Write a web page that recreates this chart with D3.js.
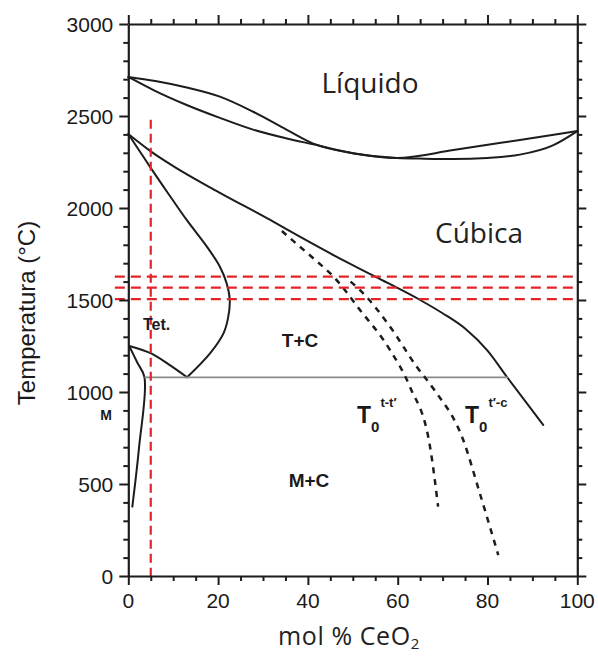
<!DOCTYPE html>
<html>
<head>
<meta charset="utf-8">
<script src="https://cdn.jsdelivr.net/npm/d3@7"></script>
<style>
  html, body { margin: 0; padding: 0; background: #fff; }
  svg { display: block; }
  .tick-label { font-family: "Liberation Sans", Arial, sans-serif; font-size: 21px; fill: #1a1a1a; }
  .phase { font-family: "Open Sans", sans-serif; fill: #222; }
  .field { font-family: "Liberation Sans", Arial, sans-serif; font-weight: bold; fill: #1a1a1a; }
</style>
</head>
<body>
<script>
// ZrO2-CeO2 phase diagram, composition in mol % CeO2, temperature in °C
const xTicks = [0, 20, 40, 60, 80, 100];
const yTicks = [0, 500, 1000, 1500, 2000, 2500, 3000];

const liquidus = [[0, 2712], [6, 2690], [13, 2655], [20.4, 2605], [27.8, 2523], [35.3, 2425],
  [41.2, 2350], [50, 2298], [59.8, 2272], [72.4, 2315], [87.2, 2370], [100, 2418]];
const solidus = [[0, 2712], [5.6, 2641], [13, 2560], [20.4, 2490], [27.8, 2426], [35.3, 2378],
  [41.2, 2346], [50, 2298], [59.8, 2272], [66, 2268], [72.4, 2266], [80, 2272], [87.2, 2290],
  [94.7, 2342], [100, 2418]];
const cubicSolvus = [[0, 2402], [5, 2308], [10, 2228], [20, 2088], [31.6, 1935], [38.2, 1844],
  [46, 1740], [55, 1627], [65, 1500], [70, 1428], [75, 1345], [80, 1225], [84.3, 1083], [92.4, 821]];
const tetSolvus = [[0, 2402], [2.5, 2310], [4.8, 2225], [9, 2075], [13, 1935], [17.5, 1790],
  [20.4, 1681], [21.9, 1591], [22.6, 1500], [22.2, 1400], [21.2, 1319], [18.2, 1210], [13.1, 1080]];
const monoTetUpper = [[0.2, 1250], [5.2, 1208], [9, 1150], [13.1, 1080]];
const monoTetLower = [[0.2, 1250], [2, 1160], [3.6, 1080], [2.4, 700], [0.9, 377]];
const eutectoid = [[3.6, 1080], [84.6, 1080]];
const t0TetTet = [[34.2, 1875], [38.2, 1790], [42, 1710], [45.7, 1627], [51.6, 1446],
  [58.3, 1228], [62.7, 1029], [67.2, 703], [69, 377]];
const t0TetCubic = [[49.5, 1600], [51.6, 1554], [58.3, 1355], [64.2, 1138], [67.9, 1020],
  [74.6, 739], [78.3, 449], [82.4, 114]];

// red guide lines: one composition, three temperatures
const guideComp = [5];
const guideTemps = [1505, 1567, 1627];

const W = 598, H = 657;
const x = d3.scaleLinear().domain([0, 100]).range([128.3, 577.3]);
const y = d3.scaleLinear().domain([0, 3000]).range([576, 24]);

const svg = d3.select("body").append("svg")
  .attr("width", W).attr("height", H)
  .attr("viewBox", `0 0 ${W} ${H}`);

const smoothLine = d3.line()
  .x(d => x(d[0])).y(d => y(d[1]))
  .curve(d3.curveMonotoneX);
const looseLine = d3.line()
  .x(d => x(d[0])).y(d => y(d[1]))
  .curve(d3.curveCatmullRom.alpha(0.5));

function drawCurve(data, opts = {}) {
  svg.append("path")
    .datum(data)
    .attr("d", opts.loose ? looseLine : smoothLine)
    .attr("fill", "none")
    .attr("stroke", opts.stroke || "#1c1c1c")
    .attr("stroke-width", opts.width || 2)
    .attr("stroke-dasharray", opts.dash || null)
    .attr("stroke-linejoin", "round")
    .attr("stroke-linecap", opts.cap || "round");
}

// phase boundaries
drawCurve(liquidus);
drawCurve(solidus);
drawCurve(cubicSolvus);
drawCurve(tetSolvus, { loose: true });
drawCurve(monoTetUpper);
drawCurve(monoTetLower, { loose: true });
drawCurve(eutectoid, { stroke: "#8a8a8a", width: 1.8, cap: "butt" });
drawCurve(t0TetTet, { dash: "6 6", width: 2.5, cap: "butt" });
drawCurve(t0TetCubic, { dash: "6 6", width: 2.5, cap: "butt" });

// red dashed guides
guideTemps.forEach(t => {
  svg.append("line")
    .attr("x1", x(-3)).attr("x2", x(100))
    .attr("y1", y(t)).attr("y2", y(t))
    .attr("stroke", "#e3232b").attr("stroke-width", 2.2)
    .attr("stroke-dasharray", "10 6");
});
guideComp.forEach(c => {
  svg.append("line")
    .attr("x1", x(c)).attr("x2", x(c))
    .attr("y1", y(2480)).attr("y2", y(-20))
    .attr("stroke", "#e3232b").attr("stroke-width", 2.2)
    .attr("stroke-dasharray", "9 5");
});

// frame with ticks on all four sides, pointing outward
const axisG = svg.append("g").attr("class", "axes");
const xMinor = d3.range(0, 101, 5);
const yMinor = d3.range(0, 3001, 100);
const axisBottom = d3.axisBottom(x).tickValues(xMinor).tickFormat("").tickSizeOuter(0);
const axisTop = d3.axisTop(x).tickValues(xMinor).tickFormat("").tickSizeOuter(0);
const axisLeft = d3.axisLeft(y).tickValues(yMinor).tickFormat("").tickSizeOuter(0);
const axisRight = d3.axisRight(y).tickValues(yMinor).tickFormat("").tickSizeOuter(0);

function styleAxis(g, isMajor) {
  g.select(".domain").attr("stroke", "#1c1c1c").attr("stroke-width", 2.2);
  g.selectAll(".tick line")
    .attr("stroke", "#1c1c1c").attr("stroke-width", 2)
    .each(function (d) {
      const len = isMajor(d) ? 9 : 5;
      const el = d3.select(this);
      const x2 = +(el.attr("x2") || 0), y2 = +(el.attr("y2") || 0);
      if (x2 !== 0) el.attr("x2", Math.sign(x2) * len);
      if (y2 !== 0) el.attr("y2", Math.sign(y2) * len);
    });
}
const xMajor = d => d % 20 === 0;
const yMajor = d => d % 500 === 0;

axisG.append("g").attr("transform", `translate(0,${y(0)})`).call(axisBottom).call(g => styleAxis(g, xMajor));
axisG.append("g").attr("transform", `translate(0,${y(3000)})`).call(axisTop).call(g => styleAxis(g, xMajor));
axisG.append("g").attr("transform", `translate(${x(0)},0)`).call(axisLeft).call(g => styleAxis(g, yMajor));
axisG.append("g").attr("transform", `translate(${x(100)},0)`).call(axisRight).call(g => styleAxis(g, yMajor));

// tick labels
svg.append("g").selectAll("text")
  .data(xTicks).join("text")
  .attr("class", "tick-label")
  .attr("x", d => x(d)).attr("y", 608)
  .attr("text-anchor", "middle")
  .text(d => d);

svg.append("g").selectAll("text")
  .data(yTicks).join("text")
  .attr("class", "tick-label")
  .attr("x", x(0) - 15).attr("y", d => y(d))
  .attr("dy", "0.36em")
  .attr("text-anchor", "end")
  .text(d => d);

// axis titles
svg.append("text")
  .attr("class", "tick-label")
  .attr("transform", `translate(35,313) rotate(-90)`)
  .attr("text-anchor", "middle")
  .style("font-size", "24px")
  .text("Temperatura (°C)");

const xTitle = svg.append("text")
  .attr("class", "phase")
  .attr("x", 349).attr("y", 645)
  .attr("text-anchor", "middle")
  .style("font-size", "25px")
  .style("letter-spacing", "0.6px");
xTitle.append("tspan").text("mol % CeO");
xTitle.append("tspan").attr("dy", 4).style("font-size", "15px").text("2");

// phase field labels
svg.append("text").attr("class", "phase")
  .attr("x", 370).attr("y", 93).attr("text-anchor", "middle")
  .style("font-size", "28px").text("Líquido");
svg.append("text").attr("class", "phase")
  .attr("x", 479).attr("y", 243).attr("text-anchor", "middle")
  .style("font-size", "28px").text("Cúbica");

svg.append("text").attr("class", "field")
  .attr("x", 143).attr("y", 330).style("font-size", "16px")
  .text("Tet.");
svg.append("text").attr("class", "field")
  .attr("x", 300).attr("y", 347).attr("text-anchor", "middle")
  .style("font-size", "19px").text("T+C");
svg.append("text").attr("class", "field")
  .attr("x", 309).attr("y", 487).attr("text-anchor", "middle")
  .style("font-size", "19px").text("M+C");
svg.append("text").attr("class", "field")
  .attr("x", 106).attr("y", 420).attr("text-anchor", "middle")
  .style("font-size", "14px").text("M");

function t0Label(px, label) {
  const t = svg.append("text").attr("class", "field").attr("x", px).attr("y", 423)
    .style("font-size", "23px").style("font-weight", "bold");
  t.append("tspan").text("T");
  t.append("tspan").attr("dy", 9).style("font-size", "15px").text("0");
  t.append("tspan").attr("dy", -25).attr("dx", 1).style("font-size", "13px").text(label);
}
t0Label(357, "t-t′");
t0Label(465, "t′-c");
</script>
</body>
</html>
